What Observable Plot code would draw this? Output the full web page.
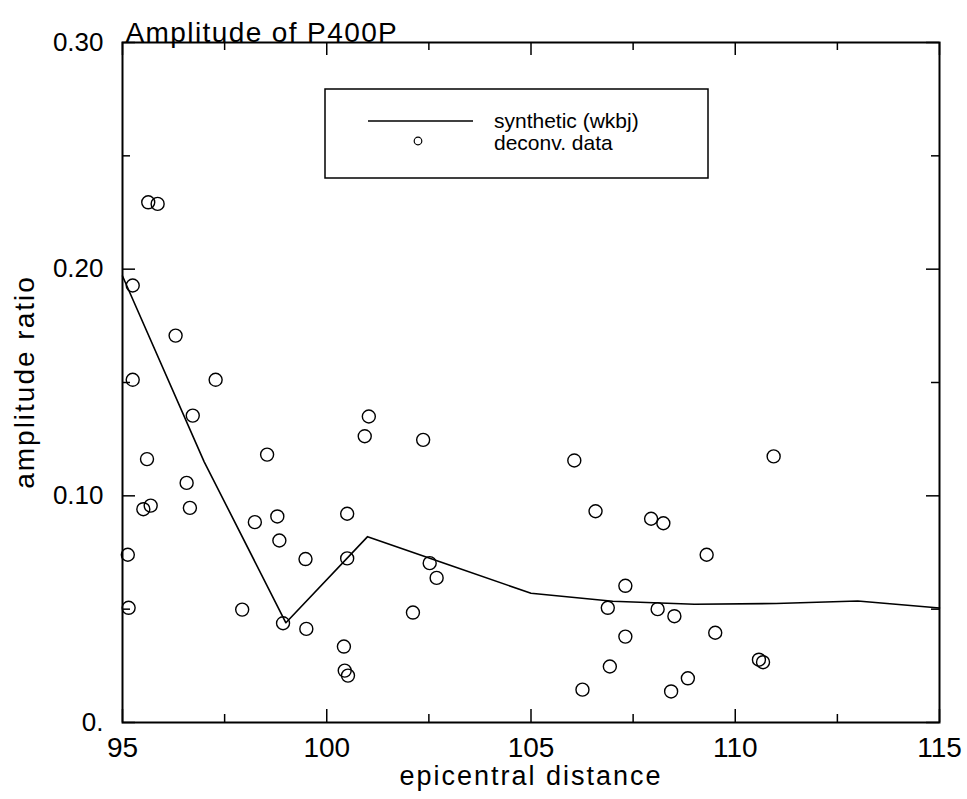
<!DOCTYPE html>
<html><head><meta charset="utf-8">
<script src="https://cdn.jsdelivr.net/npm/d3@7"></script>
<script src="https://cdn.jsdelivr.net/npm/@observablehq/plot@0.6"></script>
<style>html,body{margin:0;padding:0;background:#fff;} #chart{width:967px;height:799px;}</style>
</head><body><div id="chart"></div>
<script>
const titleText = "Amplitude of P400P";
const xLabel = "epicentral distance";
const yLabel = "amplitude ratio";
const xMajorTicks = [95, 100, 105, 110, 115];
const xMinorTicks = [97.5, 102.5, 107.5, 112.5];
const yMajorTicks = [0, 0.1, 0.2, 0.3];
const yMinorTicks = [0.05, 0.15, 0.25];
const yTickLabels = ["0.", "0.10", "0.20", "0.30"];
const legendLabels = ["synthetic (wkbj)", "deconv. data"];

// synthetic (wkbj) curve
const synthDist = [95, 97, 99, 101, 103, 105, 107, 109, 111, 113, 115];
const synthAmp  = [0.197, 0.115, 0.044, 0.082, 0.0695, 0.057, 0.0535, 0.0522, 0.0525, 0.0536, 0.0505];

// deconvolved data
const dataDist = [95.63, 95.86, 95.25, 96.30, 95.25, 97.28, 96.72, 101.03, 100.93, 95.60,
  98.54, 96.57, 96.65, 95.51, 95.69, 98.24, 98.79, 100.50, 98.84, 99.48,
  100.50, 95.13, 95.15, 97.93, 98.93, 99.50, 100.42, 100.44, 100.52, 102.36,
  106.06, 106.58, 102.52, 102.69, 102.11, 106.26, 110.94, 107.94, 108.24, 109.30,
  107.31, 106.88, 108.10, 108.51, 107.31, 109.51, 106.93, 110.58, 110.68, 108.84, 108.43];
const dataAmp = [0.2295, 0.2288, 0.1928, 0.1707, 0.1512, 0.1512, 0.1354, 0.1350, 0.1263, 0.1162,
  0.1182, 0.1057, 0.0947, 0.0941, 0.0957, 0.0884, 0.0909, 0.0921, 0.0803, 0.0721,
  0.0724, 0.0740, 0.0506, 0.0498, 0.0438, 0.0413, 0.0335, 0.0229, 0.0207, 0.1247,
  0.1156, 0.0932, 0.0703, 0.0638, 0.0485, 0.0145, 0.1174, 0.0899, 0.0879, 0.0740,
  0.0603, 0.0506, 0.0500, 0.0469, 0.0379, 0.0396, 0.0247, 0.0277, 0.0266, 0.0195, 0.0137];

const synth = synthDist.map((d, i) => ({d, a: synthAmp[i]}));
const pts = dataDist.map((d, i) => ({d, a: dataAmp[i]}));

const W = 967, H = 799, mL = 122, mR = 28, mT = 42, mB = 77;
const fw = W - mL - mR, fh = H - mT - mB;
const major = 13, minor = 8;
const FONT = "'Liberation Sans', Arial, Helvetica, sans-serif";

const chart = Plot.plot({
  width: W, height: H,
  marginLeft: mL, marginRight: mR, marginTop: mT, marginBottom: mB,
  style: {fontFamily: FONT, background: "white", color: "black"},
  x: {domain: [95, 115]},
  y: {domain: [0, 0.3]},
  marks: [
    Plot.axisX({ticks: xMajorTicks, tickSize: 0, tickPadding: 15, fontSize: 28, label: null, tickFormat: d => String(d)}),
    Plot.axisY({ticks: yMajorTicks, tickSize: 0, tickPadding: 19, fontSize: 26, label: null,
      tickFormat: d => yTickLabels[yMajorTicks.indexOf(d)]}),
    Plot.tickX(xMajorTicks, {x: d => d, insetTop: fh - major, strokeWidth: 1.5}),
    Plot.tickX(xMajorTicks, {x: d => d, insetBottom: fh - major, strokeWidth: 1.5}),
    Plot.tickX(xMinorTicks, {x: d => d, insetTop: fh - minor, strokeWidth: 1.5}),
    Plot.tickX(xMinorTicks, {x: d => d, insetBottom: fh - minor, strokeWidth: 1.5}),
    Plot.tickY(yMajorTicks, {y: d => d, insetRight: fw - major, strokeWidth: 1.5}),
    Plot.tickY(yMajorTicks, {y: d => d, insetLeft: fw - major, strokeWidth: 1.5}),
    Plot.tickY(yMinorTicks, {y: d => d, insetRight: fw - minor, strokeWidth: 1.5}),
    Plot.tickY(yMinorTicks, {y: d => d, insetLeft: fw - minor, strokeWidth: 1.5}),
    Plot.frame({stroke: "black", strokeWidth: 2}),
    Plot.line(synth, {x: "d", y: "a", stroke: "black", strokeWidth: 1.6}),
    Plot.dot(pts, {x: "d", y: "a", r: 6.5, stroke: "black", strokeWidth: 1.4, fill: "none"}),
    Plot.text([titleText], {text: d => d, frameAnchor: "top-left", textAnchor: "start", dx: 3, dy: -20, fontSize: 28}),
    Plot.text([xLabel], {text: d => d, frameAnchor: "bottom", dy: 62, fontSize: 27})
  ]
});
document.getElementById("chart").appendChild(chart);

const svg = d3.select(chart);
svg.selectAll("text").each(function() {
  const t = this.textContent;
  if (t === titleText) d3.select(this).style("letter-spacing", "1.4px");
  if (t === xLabel) d3.select(this).style("letter-spacing", "2px");
});

// y-axis title, centred on the frame's left side
svg.append("text")
  .attr("transform", `translate(24,${mT + fh / 2}) rotate(-90)`)
  .attr("dy", "0.35em")
  .style("text-anchor", "middle").style("font-family", FONT).style("font-size", "28px")
  .style("letter-spacing", "2px").attr("fill", "black")
  .text(yLabel);

// legend
const lg = svg.append("g");
lg.append("rect").attr("x", 325).attr("y", 89).attr("width", 383).attr("height", 89)
  .attr("fill", "white").attr("stroke", "black").attr("stroke-width", 1.5);
lg.append("line").attr("x1", 368).attr("x2", 473).attr("y1", 121).attr("y2", 121)
  .attr("stroke", "black").attr("stroke-width", 1.6);
lg.append("circle").attr("cx", 418).attr("cy", 141).attr("r", 3.8)
  .attr("fill", "none").attr("stroke", "black").attr("stroke-width", 1.2);
legendLabels.forEach((s, i) => {
  lg.append("text").attr("x", 494).attr("y", 128 + i * 22).text(s)
    .style("text-anchor", "start").style("font-family", FONT).style("font-size", "21px").attr("fill", "black");
});
</script>
</body></html>
